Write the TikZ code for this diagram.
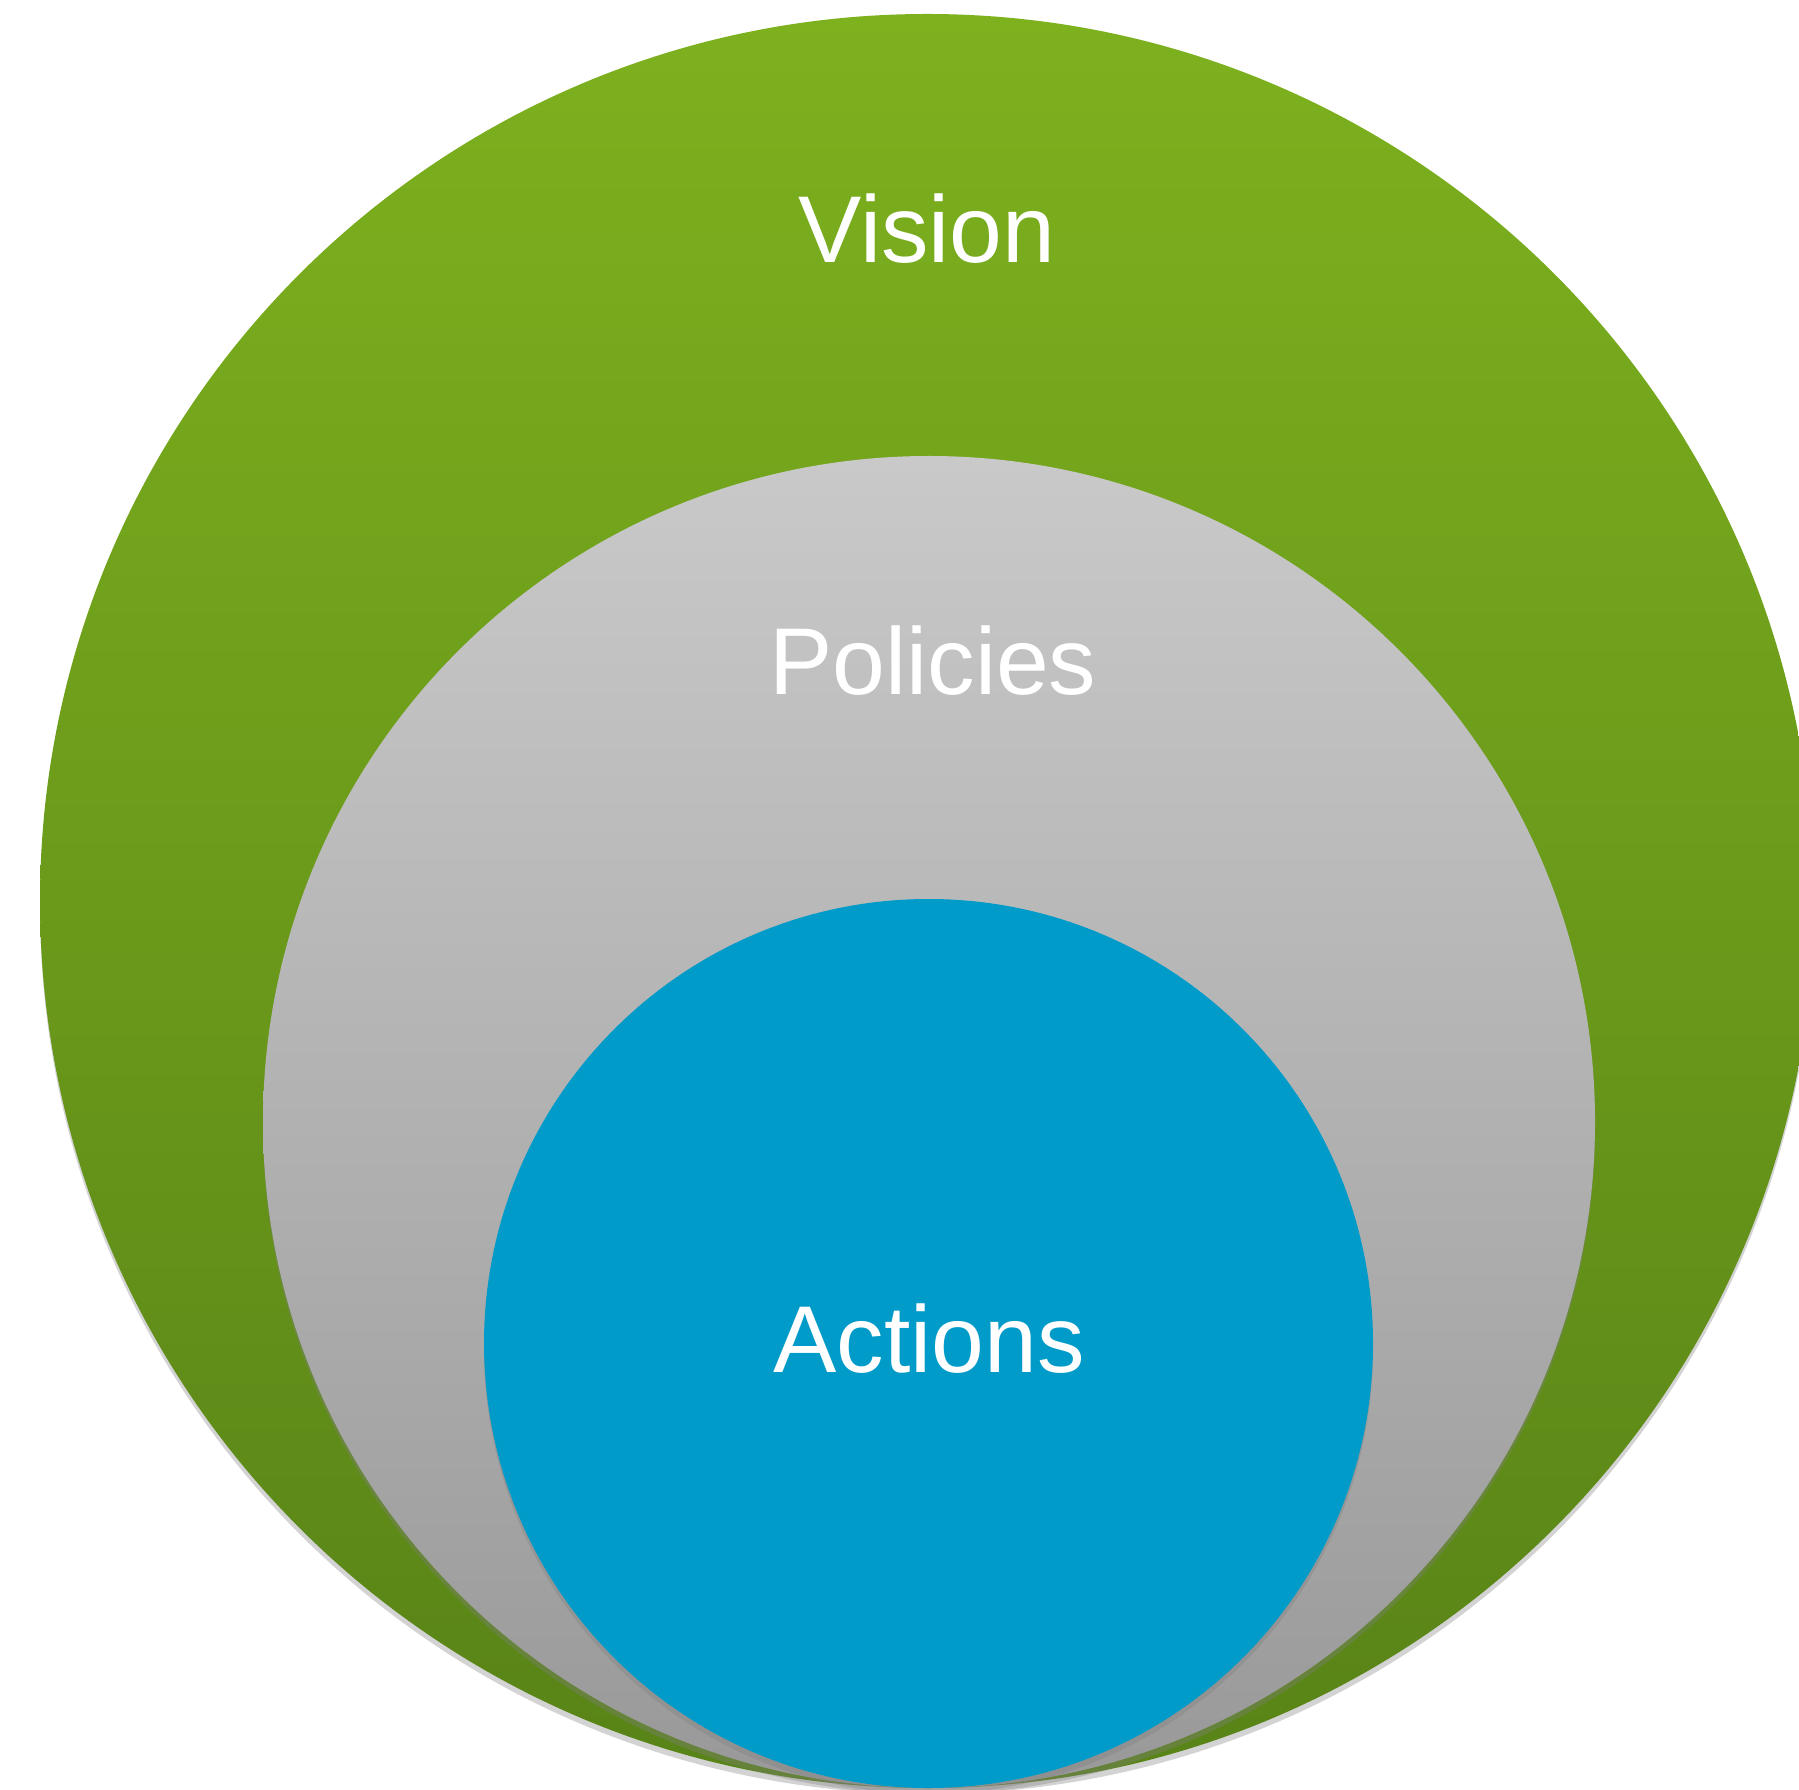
\documentclass[tikz,border=0pt]{standalone}
\usepackage{fontspec}
\setmainfont{Liberation Sans}
\usetikzlibrary{shadows}
\definecolor{visiontop}{RGB}{125,177,30}
\definecolor{visionbot}{RGB}{88,131,23}
\definecolor{policytop}{RGB}{201,201,201}
\definecolor{policybot}{RGB}{153,153,153}
\definecolor{actionblue}{RGB}{0,155,200}
\tikzset{
  ring/.style={circle, inner sep=0pt, outer sep=0pt},
  ringtext/.style={anchor=base, text=white, font=\fontsize{27}{32}\selectfont},
  ringshadow/.style={drop shadow={shadow xshift=0pt, shadow yshift=-0.6mm, opacity=0.35}}
}
\begin{document}
\begin{tikzpicture}
      \useasboundingbox (0,0) rectangle (17.99,17.89);
      \clip (0,0) rectangle (17.99,17.89);
      \node[ring, minimum size=17.74cm, top color=visiontop, bottom color=visionbot,
            ringshadow] (vision) at (9.27,8.88) {};
      \node[ring, minimum size=13.32cm, top color=policytop, bottom color=policybot,
            ringshadow] (policies) at (9.29,6.67) {};
      \node[ring, minimum size=8.89cm, fill=actionblue, ringshadow] (actions) at (9.285,4.455) {};
      \begin{scope}[every node/.style=ringtext]
        \node (visionlabel) at (9.27,15.26) {Vision};
        \node (policieslabel) at (9.33,10.94) {Policies};
        \node (actionslabel) at (9.29,4.17) {Actions};
      \end{scope}
    \end{tikzpicture}
\end{document}
